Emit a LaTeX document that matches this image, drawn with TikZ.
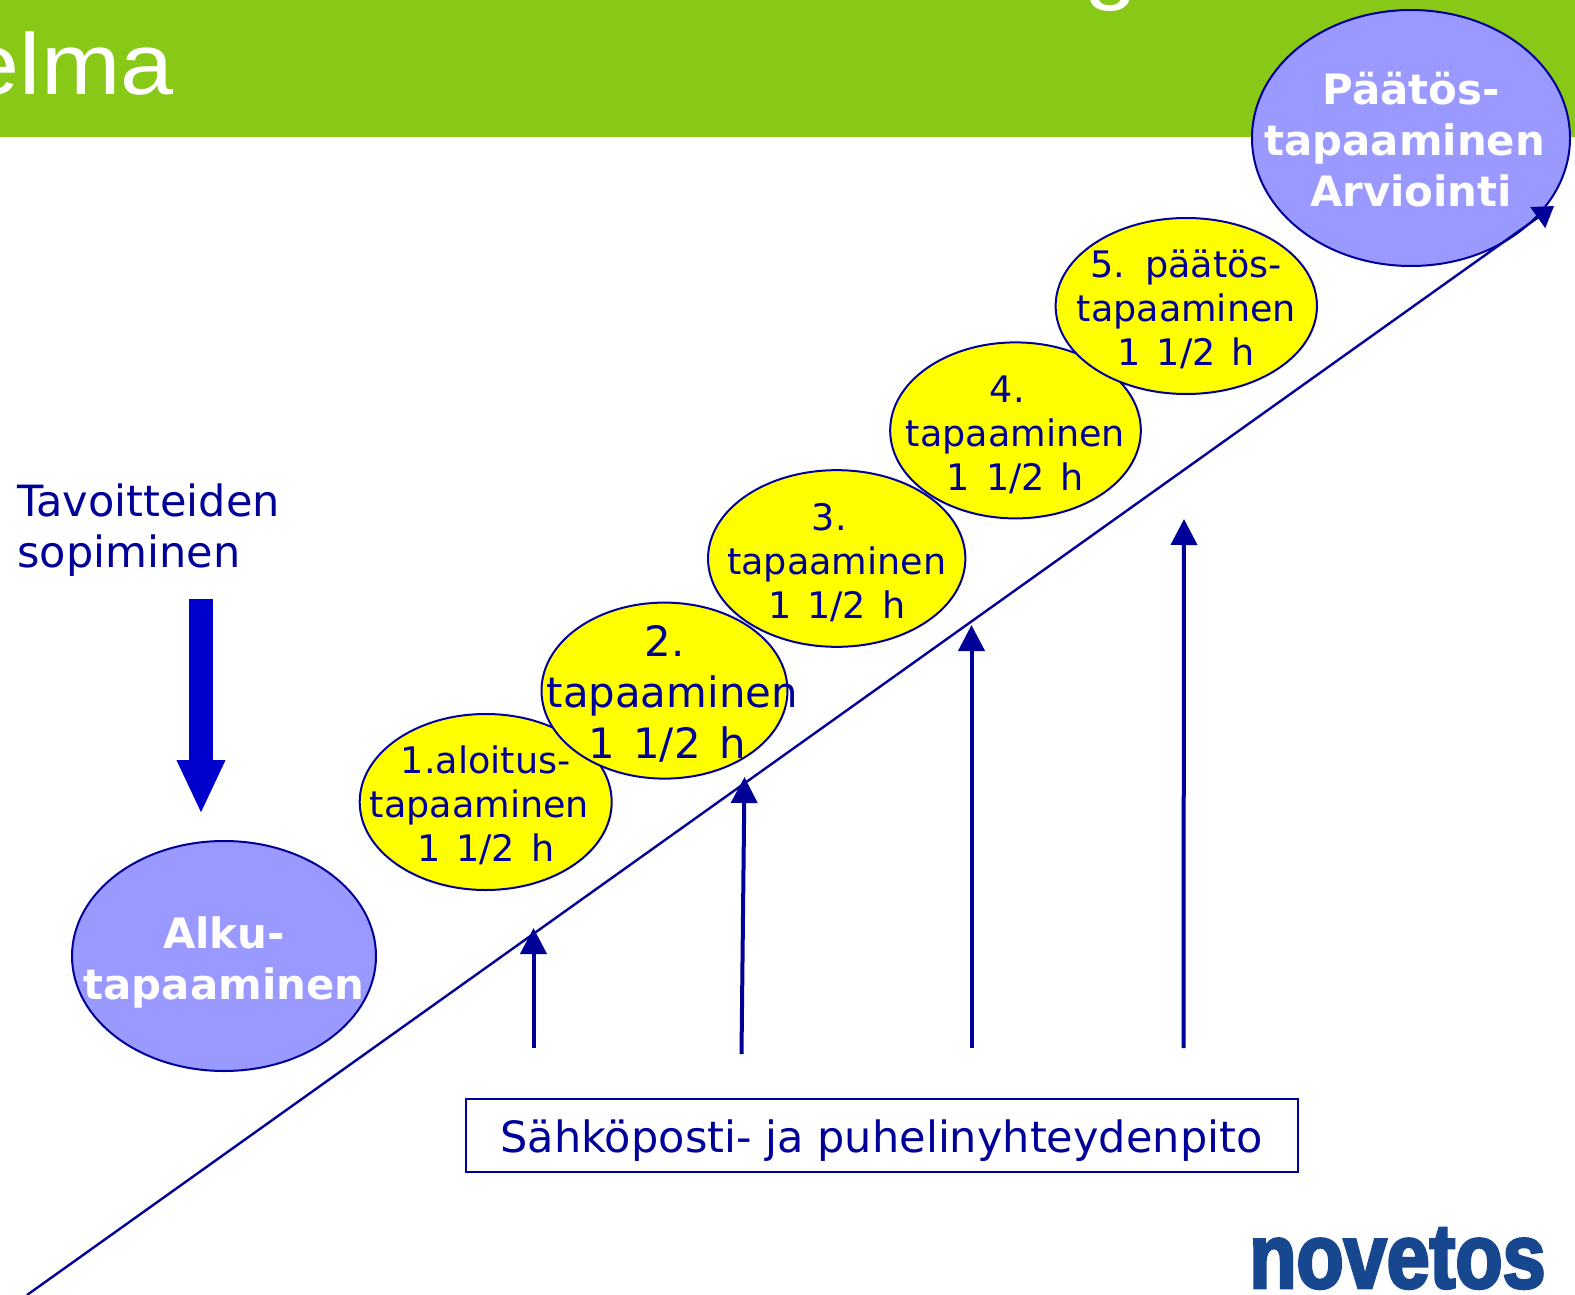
\documentclass[tikz,border=0pt]{standalone}
\usepackage{fontspec}
\usetikzlibrary{arrows.meta,shapes.geometric}
\setmainfont{DejaVu Sans}
\newfontfamily\titlefont[FakeStretch=1.1]{Liberation Sans}
\newfontfamily\logofont[FakeStretch=0.84,FakeBold=3]{Liberation Sans Bold}
\newfontfamily\meetfont[WordSpace=1.38]{DejaVu Sans}
\definecolor{navyb}{HTML}{000099}
\definecolor{arrowb}{HTML}{0000CC}
\definecolor{bandg}{HTML}{88C918}
\definecolor{lilac}{HTML}{9999FF}
\definecolor{logob}{HTML}{17478F}
\definecolor{sun}{HTML}{FFFF00}
\newcommand{\widthgap}[1]{\hbox to #1{\hfil}}
\tikzset{
  x=0.75pt,y=-0.75pt,
  meet/.style={ellipse,draw=navyb,line width=1.5pt,fill=sun,inner sep=0pt},
  goal/.style={ellipse,draw=navyb,line width=1.5pt,fill=lilac,inner sep=0pt},
  meettext/.style={align=center,inner sep=0pt,text=navyb,font=\meetfont\fontsize{27.4pt}{33pt}\selectfont},
  bigmeettext/.style={align=center,inner sep=0pt,text=navyb,font=\meetfont\fontsize{31.4pt}{38.2pt}\selectfont},
  goaltext/.style={align=center,inner sep=0pt,text=white,font=\fontsize{31.4pt}{38.2pt}\selectfont\bfseries},
  up/.style={draw=navyb,line width=3pt,-{Triangle[length=19.5pt,width=19.5pt]}},
  slope/.style={draw=navyb,line width=1.8pt,-{Triangle[length=15pt,width=19pt]}},
  bigdown/.style={draw=arrowb,line width=18pt,-{Triangle[length=40.5pt,width=33.5pt]}},
  title/.style={anchor=base west,inner sep=0pt,text=white,font=\titlefont\fontsize{65pt}{78pt}\selectfont},
  plain/.style={inner sep=0pt,text=navyb,font=\fontsize{32.3pt}{38.2pt}\selectfont}
}
\begin{document}
\begin{tikzpicture}
\useasboundingbox (0,0) rectangle (1575,1295);
\clip (0,0) rectangle (1575,1295);
\fill[white] (0,0) rectangle (1575,1295);
\fill[bandg] (0,0) rectangle (1575,137);
\node[title] (ttl) at (-33.4,94) {elma};
\node[title] (ttg) at (1084,-6) {g};

\node[goal,minimum width=228pt,minimum height=172.5pt] (alku) at (224,956) {};
\node[goaltext] (alkut) at (224,962) {Alku-\\tapaaminen};

\node[meet,minimum width=189pt,minimum height=132pt] (e1) at (485.7,802) {};
\node[meettext] (t1) at ([yshift=-2.2pt]e1.center) {1.aloitus-\\tapaaminen\widthgap{0.34em}\\1 1/2 h};
\node[meet,minimum width=184.5pt,minimum height=132pt] (e2) at (664.5,690.6) {};
\node[bigmeettext] (t2) at (667,694) {2.\widthgap{0.1em}\\\widthgap{0.25em}tapaaminen\\1 1/2 h};
\node[meet,minimum width=193pt,minimum height=132.5pt] (e3) at (836.7,558.5) {};
\node[meettext] (t3) at ([yshift=-2.8pt]e3.center) {3.\widthgap{0.4em}\\tapaaminen\\1 1/2 h};
\node[meet,minimum width=188pt,minimum height=132pt] (e4) at (1015.5,430.4) {};
\node[meettext] (t4) at ([yshift=-3.2pt]e4.center) {4.\widthgap{0.45em}\\tapaaminen\\1 1/2 h};
\node[meet,minimum width=196pt,minimum height=132pt] (e5) at (1186.3,306) {};
\node[meettext] (t5) at ([yshift=-2.2pt]e5.center) {5. päätös-\\tapaaminen\\1 1/2 h};
\node[goal,minimum width=238.5pt,minimum height=192pt] (paat) at (1411,138) {};
\node[goaltext] (paatt) at (1411,140) {Päätös-\\tapaaminen\widthgap{0.3em}\\Arviointi};

\node[plain,align=left,anchor=west] (goalst) at (17,530.5) {Tavoitteiden\\sopiminen};
\coordinate (dstart) at (201,599);
\coordinate (dend) at (201,814);
\draw[bigdown] (dstart) -- (dend);

\coordinate (sstart) at (27,1295);
\coordinate (send) at (1554,206);
\draw[slope] (sstart) -- (send);

\node[draw=navyb,line width=1.5pt,fill=white,minimum width=624pt,minimum height=55pt,inner sep=0pt] (mail) at (881.5,1135.5) {};
\node[plain] (mailt) at (881.5,1141) {Sähköposti- ja puhelinyhteydenpito};

\coordinate (a1s) at (533.5,1048);
\coordinate (a1e) at (533.5,928);
\coordinate (a2s) at (741.5,1054);
\coordinate (a2e) at (744.5,777);
\coordinate (a3s) at (971.5,1048);
\coordinate (a3e) at (971.5,625);
\coordinate (a4s) at (1183.5,1048);
\coordinate (a4e) at (1184,519);
\draw[up] (a1s) -- (a1e);
\draw[up] (a2s) -- (a2e);
\draw[up] (a3s) -- (a3e);
\draw[up] (a4s) -- (a4e);

\node[anchor=base west,inner sep=0pt,text=logob,font=\logofont\fontsize{69pt}{80pt}\selectfont] (logo) at (1249,1288) {novetos};
\end{tikzpicture}
\end{document}
